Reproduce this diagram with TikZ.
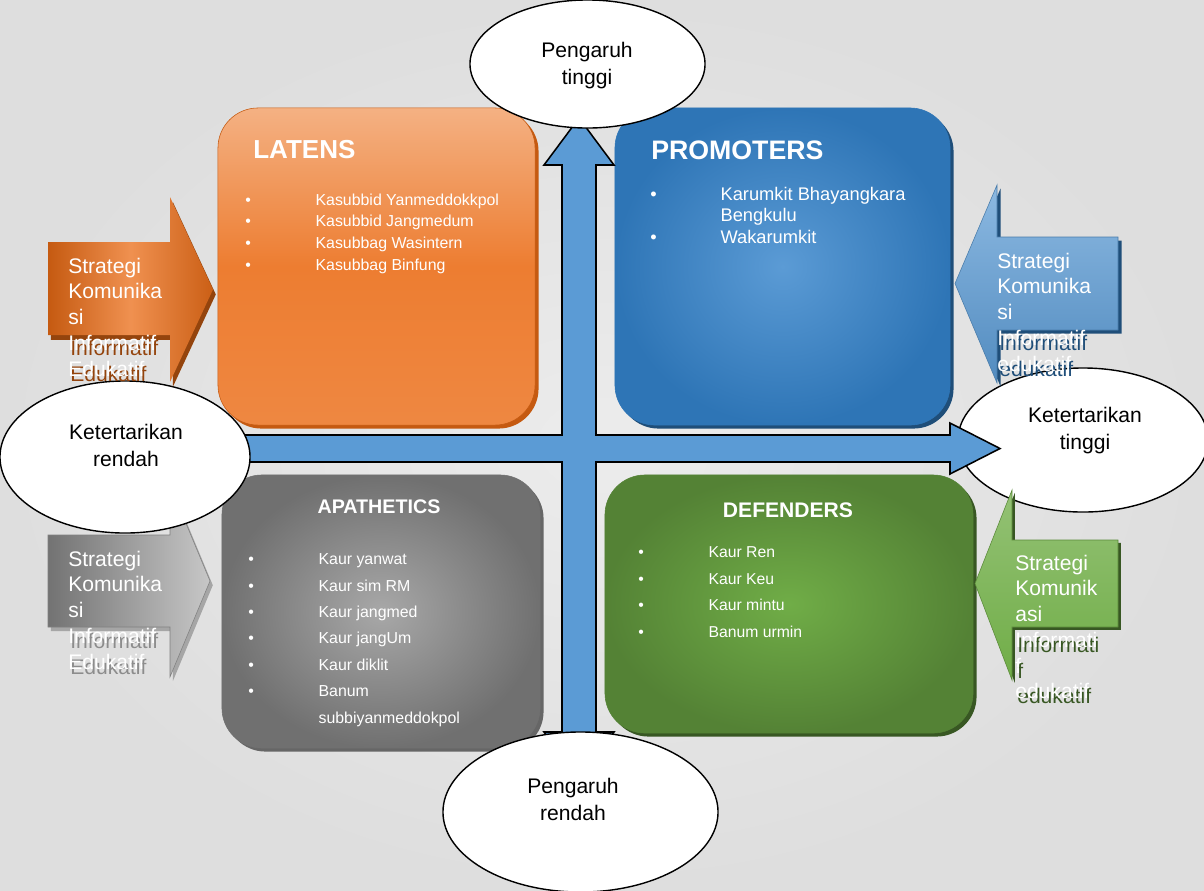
\documentclass[tikz,border=0pt]{standalone}
\usepackage{fontspec}
\setmainfont{Liberation Sans}
\usetikzlibrary{positioning,shapes.geometric,shadows}
\definecolor{bgin}{RGB}{236,236,236}
\definecolor{bgout}{RGB}{222,222,222}
\definecolor{latlight}{RGB}{244,177,131}
\definecolor{latorg}{RGB}{237,125,49}
\definecolor{latdark}{RGB}{197,90,17}
\definecolor{prolight}{RGB}{91,155,213}
\definecolor{prodark}{RGB}{46,117,182}
\definecolor{pronavy}{RGB}{31,78,121}
\definecolor{apalight}{RGB}{168,168,168}
\definecolor{apadark}{RGB}{112,112,112}
\definecolor{defl}{RGB}{112,173,71}
\definecolor{defd}{RGB}{84,130,53}
\definecolor{defnavy}{RGB}{56,87,35}
\definecolor{crossblue}{RGB}{91,155,213}
\newcommand{\bul}{\makebox[50pt][l]{\textbullet}}
\newcommand{\nobul}{\hspace*{50pt}}
\tikzset{
  quad/.style={rounded corners=1cm, thin, inner sep=0pt},
  latbox/.style={quad, draw=latdark, top color=latlight, bottom color=latorg!92!white, middle color=latorg,
                 drop shadow={shadow xshift=2.5pt, shadow yshift=-2.5pt, fill=latdark, opacity=1}},
  probox/.style={quad, draw=prodark, inner color=prolight, outer color=prodark,
                 drop shadow={shadow xshift=2.5pt, shadow yshift=-2.5pt, fill=pronavy, opacity=1}},
  apabox/.style={quad, draw=apadark, inner color=apalight, outer color=apadark,
                 drop shadow={shadow xshift=2.5pt, shadow yshift=-2.5pt, fill=black!60, opacity=1}},
  defbox/.style={quad, draw=defd, inner color=defl, outer color=defd,
                 drop shadow={shadow xshift=2.5pt, shadow yshift=-2.5pt, fill=defnavy, opacity=1}},
  ttl/.style={text=white, font=\bfseries, inner sep=0pt},
  lst/.style={text=white, align=left, anchor=north west, inner sep=0pt},
  oval/.style={ellipse, draw=black, line width=1pt, fill=white, inner sep=0pt},
  ovaltxt/.style={align=center, inner sep=0pt, font=\fontsize{15pt}{19.2pt}\selectfont},
  cross/.style={fill=crossblue, draw=black, line width=1.1pt},
  stxt/.style={text=white, align=left, anchor=north west, inner sep=0pt, font=\fontsize{15pt}{18.3pt}\selectfont},
  orarrow/.style={left color=latdark, right color=latdark!85!latorg, middle color=latorg!85!white,
                  drop shadow={shadow xshift=2pt, shadow yshift=-3.5pt, fill=latdark!75!black, opacity=1}},
  blarrow/.style={top color=prolight!70!white, bottom color=prolight!90!black, draw=prolight!80!black, thin,
                  drop shadow={shadow xshift=2.5pt, shadow yshift=-2.5pt, fill=pronavy, opacity=1}},
  grarrow/.style={left color=black!55, right color=black!22, draw=black!50, thin,
                  drop shadow={shadow xshift=2pt, shadow yshift=-3pt, fill=black!35, opacity=1}},
  gnarrow/.style={top color=defl!75!white, bottom color=defl, draw=defl!80!black, thin,
                  drop shadow={shadow xshift=2pt, shadow yshift=-2pt, fill=defnavy, opacity=1}},
}
\begin{document}
\begin{tikzpicture}[x=0.025cm, y=-0.025cm]
\useasboundingbox (0,0) rectangle (1204,890);
\shade[inner color=bgin, outer color=bgout] (0,0) rectangle (1204,890);

\node[latbox, minimum width=7.925cm, minimum height=7.925cm] (lat) at (376.5,266.5) {};
\node[probox, minimum width=8.375cm, minimum height=7.925cm] (pro) at (782.5,266.5) {};
\node[apabox, minimum width=7.95cm, minimum height=6.825cm] (apa) at (381,611.5) {};
\node[defbox, minimum width=9.2cm, minimum height=6.45cm] (def) at (789,604) {};

\node[ttl, font=\fontsize{18.5pt}{22pt}\selectfont\bfseries, anchor=base west] (latT) at (253,158) {LATENS};
\node[ttl, font=\fontsize{19pt}{22pt}\selectfont\bfseries, anchor=base west] (proT) at (651,159) {PROMOTERS};
\node[ttl, font=\fontsize{14pt}{17pt}\selectfont\bfseries, anchor=base] (apaT) at (379,513) {APATHETICS};
\node[ttl, font=\fontsize{15pt}{18pt}\selectfont\bfseries, anchor=base] (defT) at (788,517) {DEFENDERS};

\node[lst, font=\fontsize{11.3pt}{15.4pt}\selectfont] (latL) at (245,193.4)
  {\bul Kasubbid Yanmeddokkpol\\ \bul Kasubbid Jangmedum\\ \bul Kasubbag Wasintern\\ \bul Kasubbag Binfung};
\node[lst, font=\fontsize{13pt}{15.4pt}\selectfont] (proL) at (650,186.7)
  {\bul Karumkit Bhayangkara\\ \nobul Bengkulu\\ \bul Wakarumkit};
\node[lst, font=\fontsize{11.3pt}{18.8pt}\selectfont] (apaL) at (248,553.4)
  {\bul Kaur yanwat\\ \bul Kaur sim RM\\ \bul Kaur jangmed\\ \bul Kaur jangUm\\ \bul Kaur diklit\\ \bul Banum\\ \nobul subbiyanmeddokpol};
\node[lst, font=\fontsize{11.2pt}{19pt}\selectfont] (defL) at (638,546.4)
  {\bul Kaur Ren\\ \bul Kaur Keu\\ \bul Kaur mintu\\ \bul Banum urmin};

\node[oval, minimum width=6.25cm, minimum height=3.6cm] (kt) at (1083,440) {};

\draw[cross] (562,165) -- (544,165) -- (579,118) -- (614,165) -- (596,165) -- (596,435)
  -- (950,435) -- (950,423) -- (1000,448.5) -- (950,474) -- (950,462) -- (596,462)
  -- (596,732) -- (614,732) -- (579,779) -- (544,732) -- (562,732) -- (562,462)
  -- (210,462) -- (210,474) -- (160,448.5) -- (210,423) -- (210,435) -- (562,435) -- cycle;

\node[stxt, text=pronavy] at (999,257.5) {Strategi\\Komunika\\si\\Informatif\\edukatif};
\path[blarrow] (1118,237) -- (997,237) -- (997,185) -- (955,283.5) -- (997,383) -- (997,330) -- (1118,330) -- cycle;
\node[stxt] (blT) at (997,252.5) {Strategi\\Komunika\\si\\Informatif\\edukatif};

\node[stxt, text=defnavy] at (1017,559.5) {Strategi\\Komunik\\asi\\Informati\\f\\edukatif};
\path[gnarrow] (1118,540) -- (1012,540) -- (1012,490) -- (975,583.5) -- (1012,680) -- (1012,627) -- (1118,627) -- cycle;
\node[stxt] (gnT) at (1015,554.5) {Strategi\\Komunik\\asi\\Informati\\f\\edukatif};

\node[oval, minimum width=5.875cm, minimum height=3.2cm] (pt) at (587.5,64) {};
\node[ovaltxt] at (587,66) {Pengaruh\\tinggi};
\node[oval, minimum width=6.875cm, minimum height=4cm] (pr) at (580.5,812) {};
\node[ovaltxt] at (573,799) {Pengaruh\\rendah};
\node[ovaltxt] at (1085,431) {Ketertarikan\\tinggi};

\node[stxt, text=black!45] at (70,555.5) {Strategi\\Komunika\\si\\Informatif\\Edukatif};
\path[grarrow] (48,535) -- (170,535) -- (170,485) -- (210,581) -- (170,677) -- (170,627) -- (48,627) -- cycle;
\node[stxt] (grT) at (68,550.5) {Strategi\\Komunika\\si\\Informatif\\Edukatif};

\node[oval, minimum width=6.25cm, minimum height=3.8cm] (kr) at (125,457) {};
\node[ovaltxt] at (126,445) {Ketertarikan\\rendah};

\node[stxt, text=latdark!75!black] at (70,262.5) {Strategi\\Komunika\\si\\Informatif\\Edukatif};
\path[orarrow] (48,242) -- (170,242) -- (170,197) -- (213,289.5) -- (170,382) -- (170,335) -- (48,335) -- cycle;
\node[stxt] (orT) at (68,257.5) {Strategi\\Komunika\\si\\Informatif\\Edukatif};
\end{tikzpicture}
\end{document}
